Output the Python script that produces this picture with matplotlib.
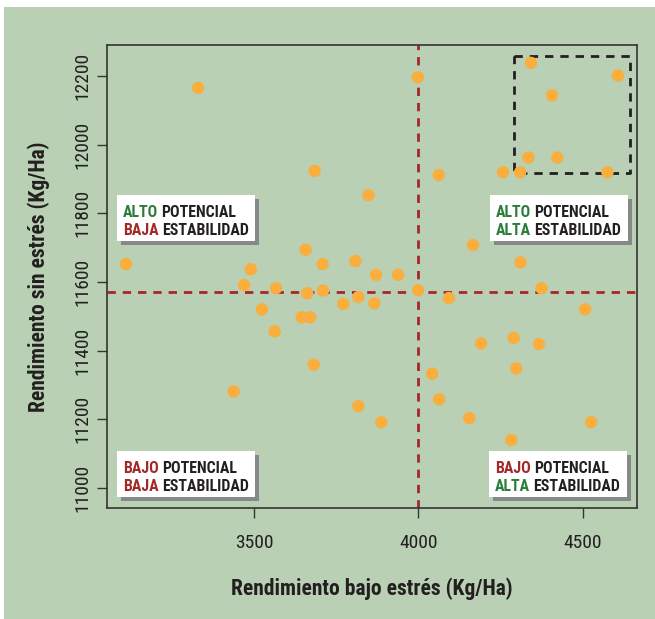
# Scatter: rendimiento bajo estres vs sin estres
import numpy as np
import matplotlib.pyplot as plt
from matplotlib.patches import Rectangle

plt.rcParams['font.family'] = ['Roboto Condensed', 'Liberation Sans Narrow', 'DejaVu Sans']

# data (Kg/Ha)
bajo_estres = [3329, 3998, 3684, 3848, 3109, 3656, 3489, 3708, 3808, 3871,
               3938, 3469, 3566, 3661, 3709, 3999, 3771, 3817, 3866, 3523,
               3644, 3670, 3562, 3681, 3437, 3817, 3887, 4166, 4311, 4093,
               4375, 4508, 4191, 4290, 4367, 4298, 4042, 4063, 4155, 4526,
               4283, 4343, 4608, 4407, 4335, 4423, 4258, 4310, 4576, 4062]
sin_estres = [12166, 12197, 11924, 11853, 11652, 11694, 11637, 11652, 11661, 11621,
              11621, 11591, 11582, 11567, 11575, 11576, 11536, 11556, 11538, 11520,
              11497, 11497, 11456, 11359, 11281, 11238, 11191, 11708, 11657, 11553,
              11582, 11520, 11421, 11437, 11419, 11348, 11333, 11258, 11203, 11191,
              11139, 12239, 12202, 12144, 11963, 11963, 11920, 11920, 11920, 11912]

x_ticks = [3500, 4000, 4500]
y_ticks = [11000, 11200, 11400, 11600, 11800, 12000, 12200]
x_ref = 4000      # vertical reference line
y_ref = 11571     # horizontal reference line
sel_x = [4292, 4644]   # dashed selection box
sel_y = [11917, 12258]

bg = '#b9d0b5'
green = '#2b7d3a'
red = '#a3282a'
dark = '#231f20'

fig = plt.figure(figsize=(6.55, 6.19), dpi=100, facecolor=bg)
# thin white margin at the top and left of the panel
fig.patches.append(Rectangle((0, 1 - 7/619), 1, 7/619, transform=fig.transFigure,
                             facecolor='white', edgecolor='none'))
fig.patches.append(Rectangle((0, 0), 4/655, 1, transform=fig.transFigure,
                             facecolor='white', edgecolor='none'))

ax = fig.add_axes([107/655, 111/619, 530/655, 463/619], facecolor=bg)

ax.scatter(bajo_estres, sin_estres, s=80, color='#f9ae3d', edgecolors='none', zorder=3)

ax.axvline(x_ref, color=red, lw=2, ls=(0, (3, 2.5)), zorder=2)
ax.axhline(y_ref, color=red, lw=2, ls=(0, (3, 2.5)), zorder=2)
ax.plot([sel_x[0], sel_x[1], sel_x[1], sel_x[0], sel_x[0]],
        [sel_y[1], sel_y[1], sel_y[0], sel_y[0], sel_y[1]],
        color=dark, lw=2, ls=(0, (3, 2.5)), zorder=2)

ax.set_xlim(3051, 4666)
ax.set_ylim(10941, 12291)
ax.set_xticks(x_ticks)
ax.set_yticks(y_ticks)
ax.tick_params(axis='both', direction='out', length=7, width=1, color='#333333',
               labelsize=14, labelcolor=dark)
ax.tick_params(axis='x', pad=11.5)
ax.tick_params(axis='y', pad=4.5)
for lab in ax.get_yticklabels():
    lab.set_rotation(90)
    lab.set_va('center')
for sp in ax.spines.values():
    sp.set_color('#333333')
    sp.set_linewidth(1.2)

ax.set_xlabel('Rendimiento bajo estrés (Kg/Ha)', fontsize=15.5, fontweight='bold', color=dark)
ax.set_ylabel('Rendimiento sin estrés (Kg/Ha)', fontsize=15.5, fontweight='bold', color=dark)
ax.xaxis.set_label_coords(0.5, -0.150)
ax.yaxis.set_label_coords(-0.108, 0.5)


def quadrant_label(x0, y0, lines):
    # shadow + white box, then two lines of two-coloured text
    w, h = 0.260, 0.0994
    ax.add_patch(Rectangle((x0 + 0.0075, y0 - 0.0086), w, h, transform=ax.transAxes,
                           facecolor='#87888a', edgecolor='none', zorder=4))
    ax.add_patch(Rectangle((x0, y0), w, h, transform=ax.transAxes,
                           facecolor='white', edgecolor='none', zorder=5))
    base = [y0 + 0.0519, y0 + 0.0119]
    for (w1, c1, w2), yb in zip(lines, base):
        t = ax.text(x0 + 0.0107, yb, w1, color=c1, transform=ax.transAxes,
                    fontsize=11.4, fontweight='bold', va='baseline', zorder=6)
        ax.annotate(w2, xy=(1, 0), xycoords=t, xytext=(2.5, 0), textcoords='offset points',
                    color=dark, fontsize=11.4, fontweight='bold', va='bottom', zorder=6)


quadrant_label(0.0189, 0.577, [('ALTO', green, 'POTENCIAL'), ('BAJA', red, 'ESTABILIDAD')])
quadrant_label(0.7226, 0.577, [('ALTO', green, 'POTENCIAL'), ('ALTA', green, 'ESTABILIDAD')])
quadrant_label(0.0189, 0.0238, [('BAJO', red, 'POTENCIAL'), ('BAJA', red, 'ESTABILIDAD')])
quadrant_label(0.7208, 0.0238, [('BAJO', red, 'POTENCIAL'), ('ALTA', green, 'ESTABILIDAD')])

plt.savefig('out.png', dpi=100, facecolor=bg)
